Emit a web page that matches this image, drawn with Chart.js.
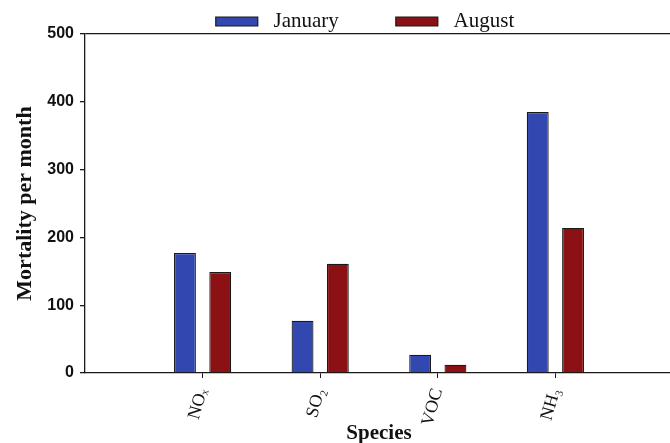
<!DOCTYPE html>
<html lang="en">
<head>
    <meta charset="UTF-8">
    <title>Mortality per month by species</title>
    <script src="https://cdn.jsdelivr.net/npm/chart.js"></script>
    <style>
        html, body { margin: 0; padding: 0; overflow: hidden; background: #fff; }
        #wrap { width: 673px; height: 443px; }
    </style>
</head>
<body>
    <div id="wrap"><canvas id="mortalityChart"></canvas></div>

    <script>
        // values
        const species = ['NOₓ', 'SO₂', 'VOC', 'NH₃'];
        const january = [177, 77, 27, 385];
        const august = [149, 161, 12, 214];
        const yTicks = [0, 100, 200, 300, 400, 500];

        // one empty slot on each side so the groups sit at 1..4 of 0..5
        const labels = [''].concat(species, ['']);
        const pad = arr => [null].concat(arr, [null]);

        const serif = "'Liberation Serif', 'Times New Roman', serif";
        const sans = "'Liberation Sans', Arial, sans-serif";
        const ink = '#1a1a1a';

        // the legend sits a little left of the plot centre in the original
        const legendShiftX = -14;
        const legendShiftY = 8;
        const legendNudge = {
            id: 'legendNudge',
            afterLayout(chart) {
                const lg = chart.legend;
                lg.left += legendShiftX;
                lg.right += legendShiftX;
                lg.top += legendShiftY;
                lg.bottom += legendShiftY;
            }
        };

        const ctx = document.getElementById('mortalityChart').getContext('2d');
        const chart = new Chart(ctx, {
            type: 'bar',
            data: {
                labels: labels,
                datasets: [{
                    label: 'January',
                    data: pad(january),
                    backgroundColor: '#3347b0',
                    borderColor: ink,
                    borderWidth: 1.2
                }, {
                    label: 'August',
                    data: pad(august),
                    backgroundColor: '#8c1115',
                    borderColor: ink,
                    borderWidth: 1.2
                }]
            },
            plugins: [legendNudge],
            options: {
                responsive: true,
                maintainAspectRatio: false,
                animation: false,
                categoryPercentage: 0.6,
                barPercentage: 0.62,
                layout: { padding: { top: -54, right: 0, bottom: 0, left: 0 } },
                plugins: {
                    tooltip: { enabled: false },
                    legend: {
                        position: 'top',
                        fullSize: false,
                        labels: {
                            boxWidth: 42,
                            boxHeight: 9,
                            padding: 57,
                            color: '#111',
                            font: { family: serif, size: 21 },
                            generateLabels: c => Chart.defaults.plugins.legend.labels.generateLabels(c)
                                .map(item => Object.assign(item, { text: ' ' + item.text }))
                        }
                    }
                },
                scales: {
                    x: {
                        offset: false,
                        border: { color: ink, width: 1.3 },
                        grid: {
                            offset: false,
                            drawOnChartArea: false,
                            tickLength: 5,
                            tickColor: c => (c.index >= 1 && c.index <= species.length) ? ink : 'rgba(0,0,0,0)'
                        },
                        ticks: {
                            autoSkip: false,
                            minRotation: 74,
                            maxRotation: 74,
                            padding: 8,
                            color: '#111',
                            font: { family: serif, size: 18 }
                        },
                        title: {
                            display: true,
                            text: 'Species',
                            color: '#111',
                            padding: { top: 0, bottom: -3 },
                            font: { family: serif, size: 21, weight: 'bold' }
                        },
                        afterFit: scale => {
                            scale.height = 70;
                            scale.paddingLeft = 0;
                            scale.paddingRight = 0;
                        }
                    },
                    y: {
                        min: 0,
                        max: 500,
                        afterBuildTicks: scale => { scale.ticks = yTicks.map(v => ({ value: v })); },
                        border: { color: ink, width: 1.3 },
                        grid: {
                            tickLength: 5,
                            tickColor: ink,
                            color: c => (c.tick && c.tick.value === 500) ? ink : 'rgba(0,0,0,0)',
                            lineWidth: 1.3
                        },
                        ticks: {
                            padding: 6,
                            color: '#111',
                            font: { family: sans, size: 16, weight: 'bold' }
                        },
                        title: {
                            display: true,
                            text: 'Mortality per month',
                            color: '#111',
                            padding: { top: 12, bottom: 0 },
                            font: { family: serif, size: 22, weight: 'bold' }
                        },
                        afterFit: scale => { scale.width = 85; }
                    }
                }
            }
        });
    </script>
</body>
</html>
